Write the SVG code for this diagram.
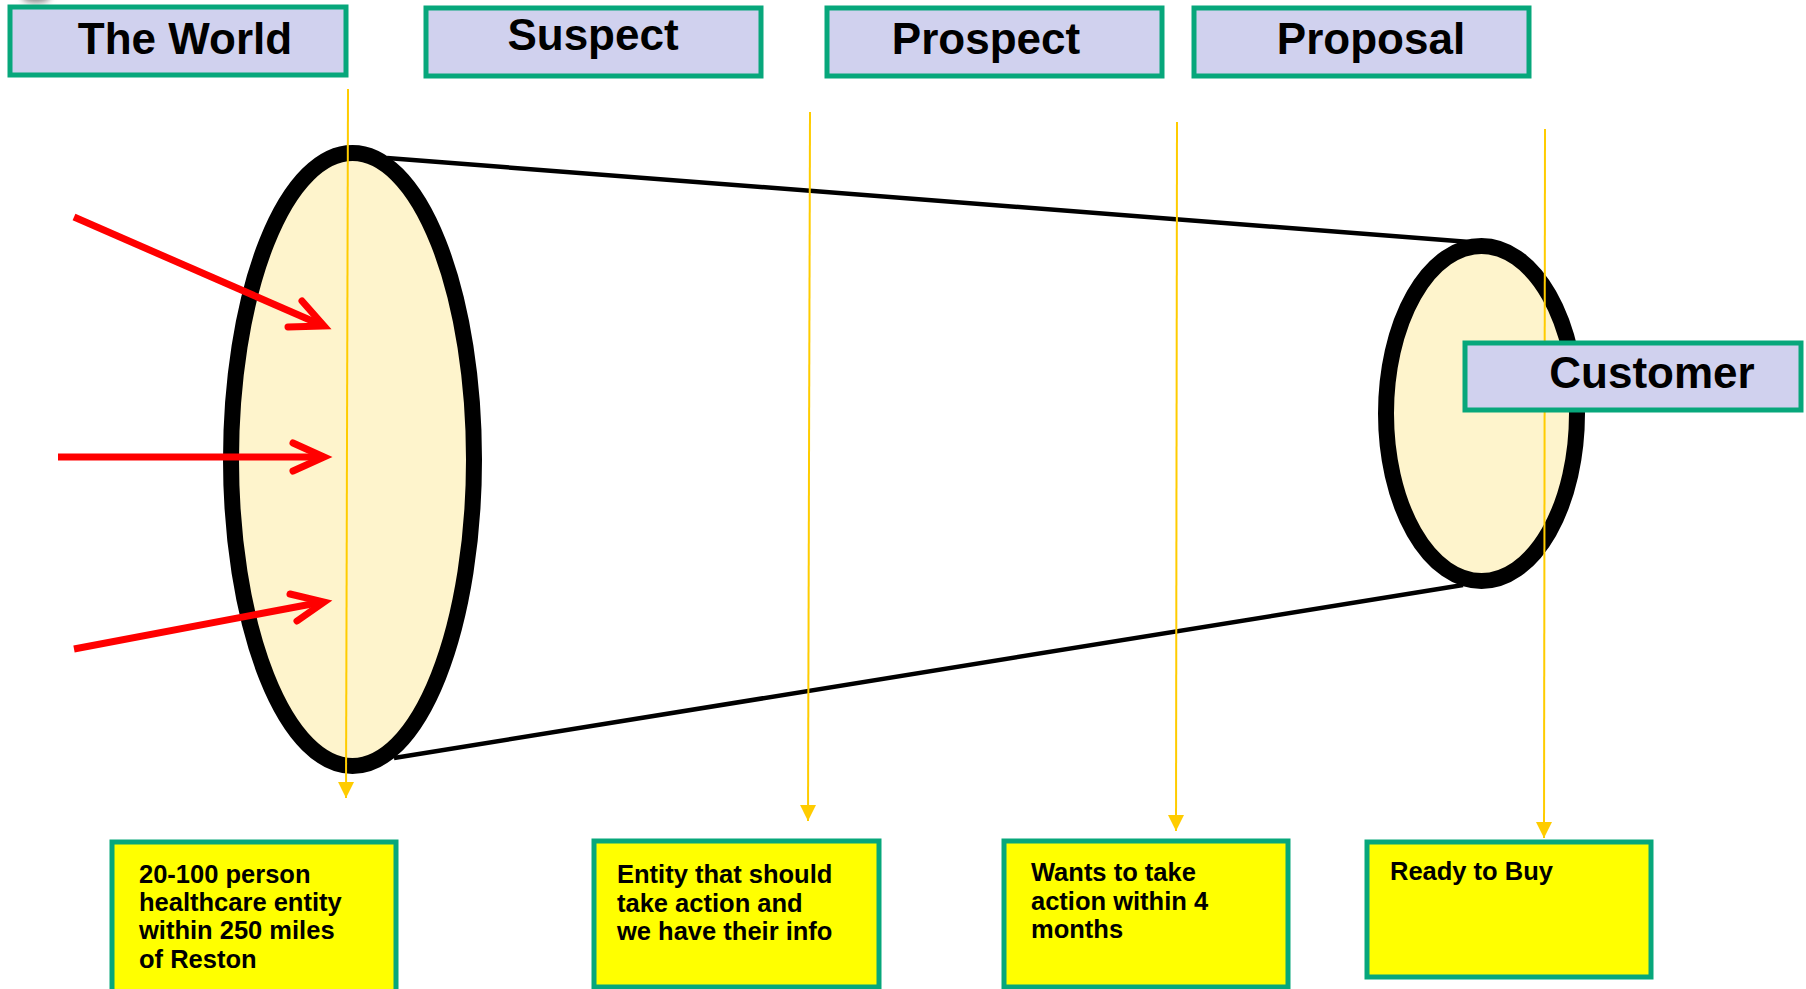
<svg xmlns="http://www.w3.org/2000/svg" width="1806" height="989" viewBox="0 0 1806 989">
  <defs>
    <style>
      .stage { fill: #D0D1EE; stroke: #07A77B; stroke-width: 5; }
      .stage-text { font-family: "Liberation Sans", Arial, sans-serif; font-weight: bold; font-size: 44px; fill: #000; text-anchor: middle; }
      .note { fill: #FFFF00; stroke: #07A77B; stroke-width: 5; }
      .note-text { font-family: "Liberation Sans", Arial, sans-serif; font-weight: bold; font-size: 25.5px; fill: #000; }
      .disc { fill: #FEF4CC; stroke: #000; }
      .edge { fill: none; stroke: #000; stroke-width: 4.5; }
      .inflow { fill: none; stroke: #FF0000; stroke-width: 7; }
      .inflow-head { fill: none; stroke: #FF0000; stroke-width: 7; stroke-linecap: round; stroke-linejoin: miter; stroke-miterlimit: 10; }
      .drop { fill: none; stroke: #FFCC00; stroke-width: 2; }
    </style>
    <marker id="gold-tip" viewBox="0 0 16 16" refX="16" refY="8" markerWidth="16" markerHeight="16" markerUnits="userSpaceOnUse" orient="auto">
      <path d="M0,0 L16,8 L0,16 Z" fill="#FFCC00"/>
    </marker>
    <filter id="soft" x="-50%" y="-50%" width="200%" height="200%">
      <feGaussianBlur stdDeviation="3"/>
    </filter>
  </defs>

  <rect x="0" y="0" width="1806" height="989" fill="#FFFFFF"/>

  <!-- small grey fragment in the top-left corner -->
  <ellipse cx="36" cy="-3" rx="14" ry="6" fill="#8C8C8C" filter="url(#soft)"/>

  <!-- funnel ends -->
  <g id="funnel-mouth">
    <ellipse class="disc" cx="352.5" cy="459.5" rx="121.5" ry="306.5" stroke-width="16"/>
  </g>
  <g id="funnel-exit">
    <ellipse class="disc" cx="1481.5" cy="413.5" rx="95.5" ry="167.5" stroke-width="16"/>
  </g>

  <g id="connectors">
    <!-- funnel sides -->
    <line class="edge" x1="387" y1="158" x2="1470" y2="242"/>
    <line class="edge" x1="394" y1="758" x2="1463" y2="585"/>

    <!-- inflow arrows -->
    <line class="inflow" x1="74" y1="217" x2="318" y2="323.5"/>
    <path class="inflow-head" d="M302,301 L324,326 L288,327"/>

    <line class="inflow" x1="58" y1="457" x2="317" y2="457"/>
    <path class="inflow-head" d="M293,443 L324,457 L293,471"/>

    <line class="inflow" x1="74" y1="649" x2="317" y2="603"/>
    <path class="inflow-head" d="M290,594 L324,602 L297,621"/>

    <!-- stage drop lines -->
    <line class="drop" x1="348" y1="89" x2="346" y2="798" marker-end="url(#gold-tip)"/>
    <line class="drop" x1="810" y1="112" x2="808" y2="821" marker-end="url(#gold-tip)"/>
    <line class="drop" x1="1177" y1="122" x2="1176" y2="831" marker-end="url(#gold-tip)"/>
    <line class="drop" x1="1545" y1="129" x2="1544" y2="838" marker-end="url(#gold-tip)"/>
  </g>

  <!-- stage headers -->
  <g id="stage-world">
    <rect class="stage" x="10" y="7" width="336" height="68"/>
    <text class="stage-text" x="185" y="54">The World</text>
  </g>
  <g id="stage-suspect">
    <rect class="stage" x="426" y="8" width="335" height="68"/>
    <text class="stage-text" x="593" y="50">Suspect</text>
  </g>
  <g id="stage-prospect">
    <rect class="stage" x="827" y="8" width="335" height="68"/>
    <text class="stage-text" x="986" y="54">Prospect</text>
  </g>
  <g id="stage-proposal">
    <rect class="stage" x="1194" y="8" width="335" height="68"/>
    <text class="stage-text" x="1371" y="54">Proposal</text>
  </g>
  <g id="stage-customer">
    <rect class="stage" x="1465" y="343" width="336" height="67"/>
    <text class="stage-text" x="1652" y="388">Customer</text>
  </g>

  <!-- stage descriptions -->
  <g id="note-world">
    <rect class="note" x="112" y="842" width="284" height="160"/>
    <text class="note-text" x="139" y="883">20-100 person</text>
    <text class="note-text" x="139" y="911">healthcare entity</text>
    <text class="note-text" x="139" y="939">within 250 miles</text>
    <text class="note-text" x="139" y="968">of Reston</text>
  </g>
  <g id="note-suspect">
    <rect class="note" x="594" y="841" width="285" height="146"/>
    <text class="note-text" x="617" y="883">Entity that should</text>
    <text class="note-text" x="617" y="912">take action and</text>
    <text class="note-text" x="617" y="940">we have their info</text>
  </g>
  <g id="note-prospect">
    <rect class="note" x="1004" y="841" width="284" height="146"/>
    <text class="note-text" x="1031" y="881">Wants to take</text>
    <text class="note-text" x="1031" y="910">action within 4</text>
    <text class="note-text" x="1031" y="938">months</text>
  </g>
  <g id="note-proposal">
    <rect class="note" x="1367" y="842" width="284" height="135"/>
    <text class="note-text" x="1390" y="880">Ready to Buy</text>
  </g>
</svg>
